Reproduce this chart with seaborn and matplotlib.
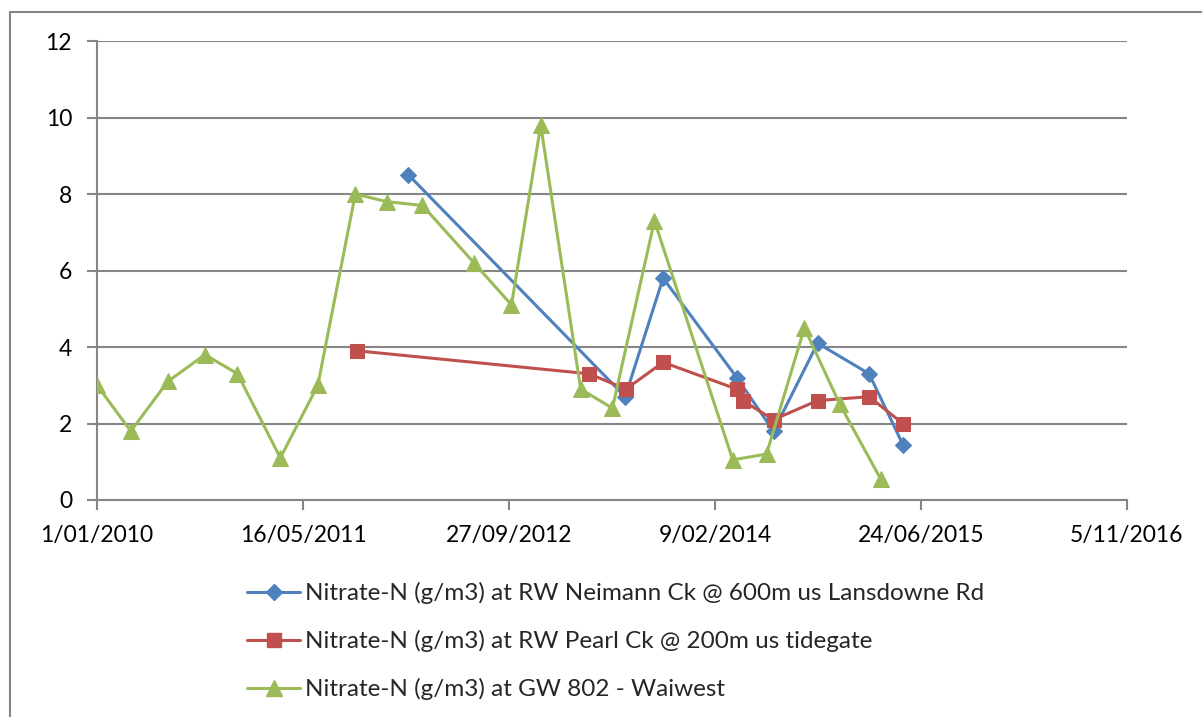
import matplotlib
matplotlib.use("Agg")
import matplotlib.pyplot as plt
from matplotlib.lines import Line2D
import pandas as pd
import seaborn as sns

neimann_dates = ["2012-01-27", "2013-07-06", "2013-10-06", "2014-04-03", "2014-07-01",
                 "2014-10-16", "2015-02-18", "2015-05-11"]
neimann_vals = [8.5, 2.7, 5.8, 3.2, 1.8, 4.1, 3.3, 1.45]

pearl_dates = ["2011-09-25", "2013-04-09", "2013-07-08", "2013-10-06", "2014-04-03",
               "2014-04-17", "2014-07-01", "2014-10-16", "2015-02-18", "2015-05-11"]
pearl_vals = [3.9, 3.3, 2.9, 3.6, 2.9, 2.6, 2.1, 2.6, 2.7, 2.0]

waiwest_dates = ["2010-01-01", "2010-03-24", "2010-06-22", "2010-09-20", "2010-12-08",
                 "2011-03-22", "2011-06-21", "2011-09-20", "2011-12-05", "2012-03-01",
                 "2012-07-04", "2012-10-03", "2012-12-13", "2013-03-20", "2013-06-05",
                 "2013-09-15", "2014-03-24", "2014-06-14", "2014-09-14", "2014-12-09",
                 "2015-03-18"]
waiwest_vals = [3.0, 1.8, 3.1, 3.8, 3.3, 1.1, 3.0, 8.0, 7.8, 7.7, 6.2, 5.1, 9.8, 2.9, 2.4,
                7.3, 1.05, 1.2, 4.5, 2.5, 0.55]

series_names = ["Nitrate-N (g/m3) at RW Neimann Ck @ 600m us Lansdowne Rd",
                "Nitrate-N (g/m3) at RW Pearl Ck @ 200m us tidegate",
                "Nitrate-N (g/m3) at GW 802 - Waiwest"]

tick_dates = ["2010-01-01", "2011-05-16", "2012-09-27", "2014-02-09", "2015-06-24", "2016-11-05"]
tick_labels = ["1/01/2010", "16/05/2011", "27/09/2012", "9/02/2014", "24/06/2015", "5/11/2016"]

sns.set_style("white")
plt.rcParams['font.family'] = ['Lato', 'DejaVu Sans']

grey = "#868686"
colors = ["#4F81BD", "#C0504D", "#9BBB59"]
markers = ["D", "s", "^"]
msizes = [8, 10, 11]

fig = plt.figure(figsize=(12.02, 7.17), dpi=100)
ax = fig.add_axes([97 / 1202, 1 - 500 / 717, (1127 - 97) / 1202, (500 - 41) / 717])

all_dates = [neimann_dates, pearl_dates, waiwest_dates]
all_vals = [neimann_vals, pearl_vals, waiwest_vals]
for i in range(3):
    df = pd.DataFrame({"date": pd.to_datetime(all_dates[i]), "value": all_vals[i]})
    sns.lineplot(data=df, x="date", y="value", ax=ax, color=colors[i], marker=markers[i],
                 markersize=msizes[i], markeredgecolor=colors[i], linewidth=2.2,
                 label=series_names[i], legend=False, zorder=3 + i)

ax.set_xlim(pd.Timestamp("2010-01-01"), pd.Timestamp("2016-11-05"))
ax.set_ylim(0, 12)
ax.set_yticks(range(0, 13, 2))
ax.set_xticks(pd.to_datetime(tick_dates))
ax.set_xticklabels(tick_labels)
ax.set_xlabel("")
ax.set_ylabel("")
ax.yaxis.grid(True, color=grey, linewidth=1.5)
ax.set_axisbelow(True)
for s in ["top", "right"]:
    ax.spines[s].set_visible(False)
for s in ["left", "bottom"]:
    ax.spines[s].set_color(grey)
    ax.spines[s].set_linewidth(1.5)
ax.tick_params(axis="both", direction="out", length=7, width=1.5, color=grey,
               labelsize=16.5, pad=11, labelcolor="black")
ax.tick_params(axis="x", bottom=True)
ax.tick_params(axis="y", left=True)

handles = [Line2D([], [], color=colors[i], marker=markers[i], markersize=msizes[i],
                  markeredgecolor=colors[i], linewidth=2.2) for i in range(3)]
fig.legend(handles, series_names, loc="upper left",
           bbox_to_anchor=(247 / 1202, 1 - 582 / 717), frameon=False, fontsize=17.5,
           handlelength=2.2, handletextpad=0.2, labelspacing=1.07,
           borderpad=0, borderaxespad=0)

# chart border (Excel chart area)
fig.add_artist(Line2D([10 / 1202, 1.0], [1 - 11.5 / 717, 1 - 11.5 / 717],
                      transform=fig.transFigure, color=grey, linewidth=1.5))
fig.add_artist(Line2D([10 / 1202, 10 / 1202], [0, 1 - 11.5 / 717],
                      transform=fig.transFigure, color=grey, linewidth=1.5))

fig.savefig("out.png", dpi=100)
